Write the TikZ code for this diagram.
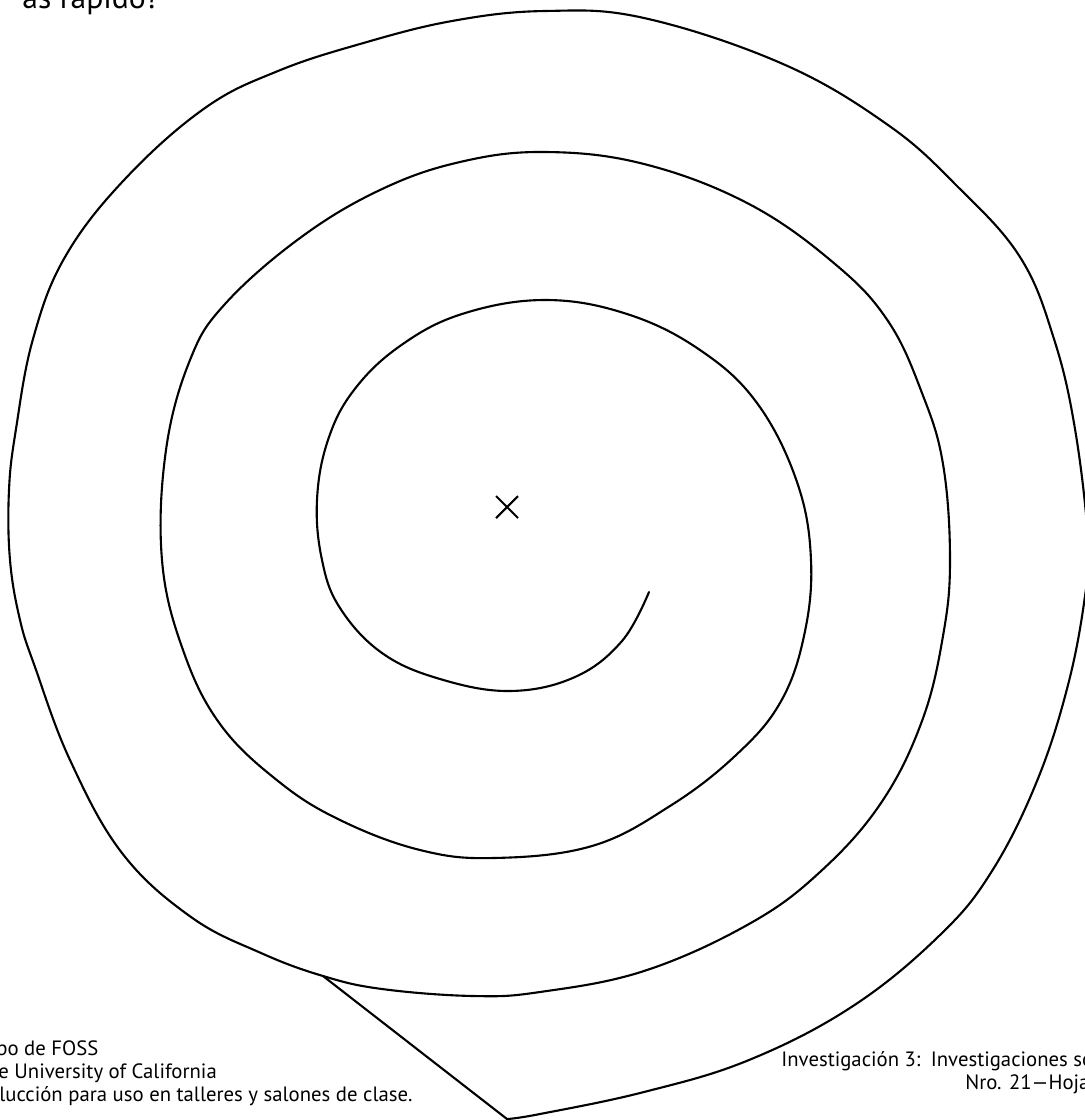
\documentclass[tikz,border=0pt]{standalone}
\usepackage{fontspec}
\setmainfont{PT Sans}
\begin{document}
\begin{tikzpicture}[x=0.02cm, y=-0.02cm,
  curve/.style={line width=1.2pt, line join=round, line cap=round},
  smalltext/.style={anchor=base west, inner sep=0pt, font=\fontsize{11.8}{13}\selectfont}]
  \useasboundingbox (0,0) rectangle (1085,1120);

  % heading, cut at the page edge
  \node (title) [anchor=base east, inner sep=0pt, font=\fontsize{18}{20}\selectfont] at (160,8) {ás rápido?};

  % the spiral, from the inner end outwards
  \coordinate (junction) at (323,976);
  \coordinate (tail) at (507,1119);
  \draw[curve] plot[smooth, tension=0.65] coordinates {
    (649,592) (622,641) (575,677) (510,691) (440,679) (382,653) (340,608)
    (322,560) (317,500) (328,440) (354,390) (400,346) (462,314) (545,300)
    (627,314) (700,350) (757,403) (797,482) (811,560)
    (804,636) (780,703) (735,756) (670,806) (592,846) (494,858) (420,850)
    (340,820) (278,781) (220,724) (183,650) (162,560) (166,450) (190,360)
    (225,304) (300,238) (380,190) (460,162) (545,152) (644,164) (749,204)
    (835,264) (888,321) (922,393) (943,464) (950,560)
    (943,636) (922,721) (881,803) (820,872) (749,924) (644,971) (540,992)
    (473,996) (382,989) (junction)
    (261,953) (191,917) (122,853) (70,760) (35,667) (20,620) (10,560)
    (9,490) (16,429) (33,339) (65,257) (125,179) (205,108) (278,71)
    (360,44) (452,21) (545,11) (644,18) (783,64) (888,125) (957,186)
    (1020,257) (1054,339) (1075,429) (1088,540) (1085,596) (1068,685)
    (1037,781) (992,871) (940,935) (853,1006) (749,1060) (644,1092)
    (540,1114) (tail)};
  \draw[curve] (tail) -- (junction);

  % centre mark
  \coordinate (centre) at (507,507);
  \draw[line width=1.2pt] ([shift={(-11,-11)}]centre) -- ([shift={(11,11)}]centre)
    ([shift={(-11,11)}]centre) -- ([shift={(11,-11)}]centre);

  % footer lines
  \node (credit1) [smalltext] at (-4,1055) {po de FOSS};
  \node (credit2) [smalltext] at (-2,1078) {e University of California};
  \node (credit3) [smalltext] at (-1,1101) {lucción para uso en talleres y salones de clase.};
  \node (footer1) [smalltext] at (781,1066) {Investigación 3:\enspace Investigaciones so};
  \node (footer2) [smalltext] at (965,1089) {Nro. 21—Hoja};
\end{tikzpicture}
\end{document}
